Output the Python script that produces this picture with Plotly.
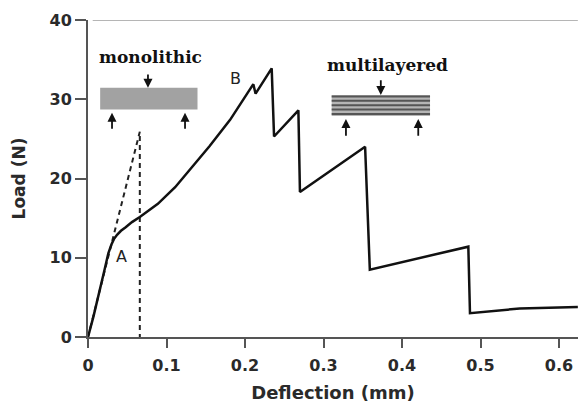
import plotly.graph_objects as go

# Load-deflection curve (multilayered)
deflection = [0, 0.007, 0.021, 0.026, 0.030, 0.033, 0.037, 0.042, 0.048, 0.056, 0.066,
              0.089, 0.111, 0.1325, 0.155, 0.181, 0.2106, 0.2135, 0.234, 0.237,
              0.268, 0.270, 0.353, 0.359, 0.4845, 0.4866, 0.55, 0.624]
load = [0, 2.6, 8.45, 10.6, 11.7, 12.35, 12.9, 13.4, 13.85, 14.5, 15.15,
        16.8, 18.9, 21.5, 24.1, 27.4, 31.9, 30.7, 33.9, 25.3,
        28.6, 18.3, 24.0, 8.5, 11.4, 3.0, 3.6, 3.8]

# Monolithic (dashed) response
mono_x = [0, 0.066, 0.066]
mono_y = [0, 25.9, 0]

x_ticks = [0, 0.1, 0.2, 0.3, 0.4, 0.5, 0.6]
x_tick_labels = ["0", "0.1", "0.2", "0.3", "0.4", "0.5", "0.6"]
y_ticks = [0, 10, 20, 30, 40]
y_tick_labels = ["0", "10", "20", "30", "40"]

fig = go.Figure()
fig.add_trace(go.Scatter(x=mono_x, y=mono_y, mode="lines",
                         line=dict(color="#222", width=2, dash="5px,4px"),
                         showlegend=False, hoverinfo="skip"))
fig.add_trace(go.Scatter(x=deflection, y=load, mode="lines",
                         line=dict(color="#111", width=2.5),
                         showlegend=False, hoverinfo="skip"))

shapes = []
# top border
shapes.append(dict(type="line", xref="x", yref="y", x0=0.006, x1=0.624, y0=40, y1=40,
                   line=dict(color="#b5b5b5", width=2)))
# monolithic beam
shapes.append(dict(type="rect", xref="x", yref="y", x0=0.0155, x1=0.1395, y0=28.7, y1=31.45,
                   fillcolor="#a2a2a2", line=dict(width=0)))
# multilayered beam
shapes.append(dict(type="rect", xref="x", yref="y", x0=0.3104, x1=0.4357, y0=27.9, y1=30.55,
                   fillcolor="#b5b5b5", line=dict(width=0)))
for yy in [30.35, 29.8, 29.25, 28.7, 28.15]:
    shapes.append(dict(type="line", xref="x", yref="y", x0=0.3104, x1=0.4357, y0=yy, y1=yy,
                       line=dict(color="#555", width=2)))

ann = []
serif = dict(family="DejaVu Serif", size=17, color="#111")
ann.append(dict(x=0.0795, y=35.3, xref="x", yref="y", text="<b>monolithic</b>",
                showarrow=False, font=serif))
ann.append(dict(x=0.381, y=34.3, xref="x", yref="y", text="<b>multilayered</b>",
                showarrow=False, font=serif))
sans = dict(family="DejaVu Sans", size=16, color="#222")
ann.append(dict(x=0.0424, y=10.2, xref="x", yref="y", text="A", showarrow=False, font=sans))
ann.append(dict(x=0.1873, y=32.6, xref="x", yref="y", text="B", showarrow=False, font=sans))

def arrow(x, y_tip, y_tail):
    return dict(x=x, y=y_tip, ax=x, ay=y_tail, xref="x", yref="y", axref="x", ayref="y",
                text="", showarrow=True, arrowhead=2, arrowsize=1, arrowwidth=1.8,
                arrowcolor="#111")

ann.append(arrow(0.0764, 31.45, 33.3))
ann.append(arrow(0.0306, 28.3, 26.1))
ann.append(arrow(0.1236, 28.3, 26.1))
ann.append(arrow(0.3730, 30.55, 32.6))
ann.append(arrow(0.3286, 27.5, 25.2))
ann.append(arrow(0.4207, 27.5, 25.2))

tickfont = dict(family="DejaVu Sans", size=16, color="#2a2a2a", weight="bold")
fig.update_layout(
    width=578, height=403,
    margin=dict(l=88, r=0, t=20, b=66),
    plot_bgcolor="white", paper_bgcolor="white",
    shapes=shapes, annotations=ann,
    xaxis=dict(range=[0, 0.6242], tickvals=x_ticks, ticktext=x_tick_labels,
               showgrid=False, zeroline=False, showline=True, linecolor="#555", linewidth=2,
               ticks="outside", ticklen=9, tickwidth=2, tickcolor="#555", tickfont=tickfont,
               ticklabelstandoff=4,
               title=dict(text="Deflection (mm)", standoff=12,
                          font=dict(family="DejaVu Sans", size=18, color="#2a2a2a",
                                    weight="bold"))),
    yaxis=dict(range=[0, 40], tickvals=y_ticks, ticktext=y_tick_labels,
               showgrid=False, zeroline=False, showline=True, linecolor="#555", linewidth=2,
               ticks="outside", ticklen=11, tickwidth=2, tickcolor="#555", tickfont=tickfont,
               title=dict(text="Load (N)", standoff=20,
                          font=dict(family="DejaVu Sans", size=17, color="#2a2a2a",
                                    weight="bold"))),
)
fig.write_html("out.html")
